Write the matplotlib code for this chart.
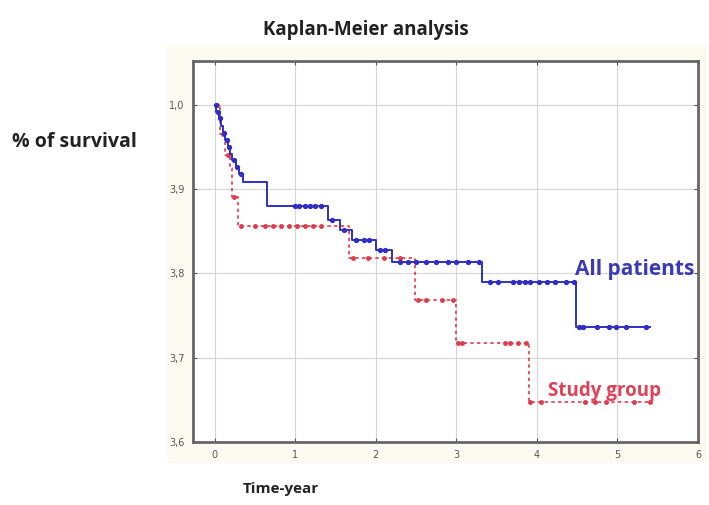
import matplotlib
matplotlib.use("Agg")
import matplotlib.pyplot as plt
import numpy as np
from matplotlib.patches import Rectangle

# step curves: time of each drop and survival level after it
all_times = [0.0, 0.02, 0.05, 0.08, 0.10, 0.13, 0.16, 0.19, 0.22, 0.26, 0.30, 0.35,
             0.65, 1.40, 1.55, 1.70, 2.00, 2.20, 3.32, 4.49]
all_surv = [1.0, 0.992, 0.984, 0.975, 0.967, 0.958, 0.950, 0.942, 0.934, 0.926, 0.918, 0.909,
            0.880, 0.863, 0.851, 0.840, 0.828, 0.814, 0.790, 0.737]
all_end = 5.40

study_times = [0.0, 0.06, 0.13, 0.19, 0.22, 0.29, 1.67, 2.49, 2.99, 3.90]
study_surv = [1.0, 0.965, 0.940, 0.925, 0.891, 0.856, 0.818, 0.769, 0.718, 0.647]
study_end = 5.43

# censored observations (marker positions along the curves)
all_cens = [0.01, 0.04, 0.07, 0.11, 0.15, 0.18, 0.24, 0.28, 0.33, 1.00, 1.05, 1.12, 1.18,
            1.25, 1.32, 1.45, 1.60, 1.75, 1.85, 1.92, 2.05, 2.12, 2.30, 2.40, 2.50, 2.62,
            2.75, 2.90, 3.00, 3.15, 3.28, 3.42, 3.52, 3.70, 3.78, 3.85, 3.92, 4.02, 4.12,
            4.22, 4.36, 4.46, 4.52, 4.57, 4.75, 4.90, 4.98, 5.10, 5.35]
study_cens = [0.03, 0.10, 0.17, 0.24, 0.32, 0.50, 0.62, 0.72, 0.82, 0.92, 1.02, 1.12,
              1.22, 1.32, 1.72, 1.90, 2.10, 2.30, 2.52, 2.62, 2.82, 2.96, 3.02, 3.07,
              3.60, 3.66, 3.76, 3.86, 3.92, 4.05, 4.60, 4.72, 4.86, 5.20, 5.40]

x_ticks = [0, 1, 2, 3, 4, 5, 6]
y_ticks = [0.6, 0.7, 0.8, 0.9, 1.0]
y_labels = ["3,6", "3,7", "3,8", "3,9", "1,0"]

BLUE = "#2f2fc8"
RED = "#e23a4a"
FONT = ["Open Sans", "DejaVu Sans"]


def step_xy(times, surv, end):
    x = list(times) + [end]
    y = list(surv) + [surv[-1]]
    return x, y


def level_at(times, surv, t):
    idx = np.searchsorted(times, t, side="right") - 1
    return surv[max(idx, 0)]


fig = plt.figure(figsize=(7.09, 5.05), dpi=100)
fig.patch.set_facecolor("white")
fig.patches.append(Rectangle((167 / 709, 1 - 463 / 505), 540 / 709, 418 / 505,
                             transform=fig.transFigure, facecolor="#fdfbf1",
                             edgecolor="none", zorder=-10))

ax = fig.add_axes([193 / 709, 1 - 442 / 505, 505 / 709, 381 / 505])
ax.set_facecolor("white")

sx, sy = step_xy(study_times, study_surv, study_end)
ax.step(sx, sy, where="post", color=RED, lw=1.2, ls=(0, (2, 2)), zorder=3)
ax.plot(study_cens, [level_at(study_times, study_surv, t) for t in study_cens],
        ls="none", marker="o", ms=2.5, color=RED, zorder=3)

ax2x, ax2y = step_xy(all_times, all_surv, all_end)
ax.step(ax2x, ax2y, where="post", color=BLUE, lw=1.4, zorder=4)
ax.plot(all_cens, [level_at(all_times, all_surv, t) for t in all_cens],
        ls="none", marker="o", ms=2.8, color=BLUE, zorder=4)

ax.set_xlim(-0.27, 6)
ax.set_ylim(0.6, 1.052)
ax.set_xticks(x_ticks)
ax.set_yticks(y_ticks)
ax.set_yticklabels(y_labels)
ax.tick_params(labelsize=7, colors="#555555", length=3, direction="in",
               top=True, right=True, pad=6)
ax.grid(color="#d6d6d6", lw=0.8)
for sp in ax.spines.values():
    sp.set_color("#666666")
    sp.set_linewidth(2)

ax.text(4.47, 0.805, "All patients", color="#3a3ab8", fontsize=15, fontweight="bold",
        family=FONT, va="center", ha="left")
ax.text(4.14, 0.661, "Study group", color="#df4256", fontsize=13.5, fontweight="bold",
        family=FONT, va="center", ha="left")

fig.text(366 / 709, 1 - 30 / 505, "Kaplan-Meier analysis", fontsize=13.5,
         fontweight="bold", family=FONT, ha="center", va="center", color="#222222")
fig.text(12 / 709, 1 - 142 / 505, "% of survival", fontsize=14,
         fontweight="bold", family=FONT, ha="left", va="center", color="#222222")
fig.text(281 / 709, 1 - 489 / 505, "Time-year", fontsize=11,
         fontweight="bold", family=FONT, ha="center", va="center", color="#222222")

fig.savefig("out.png", dpi=100)
